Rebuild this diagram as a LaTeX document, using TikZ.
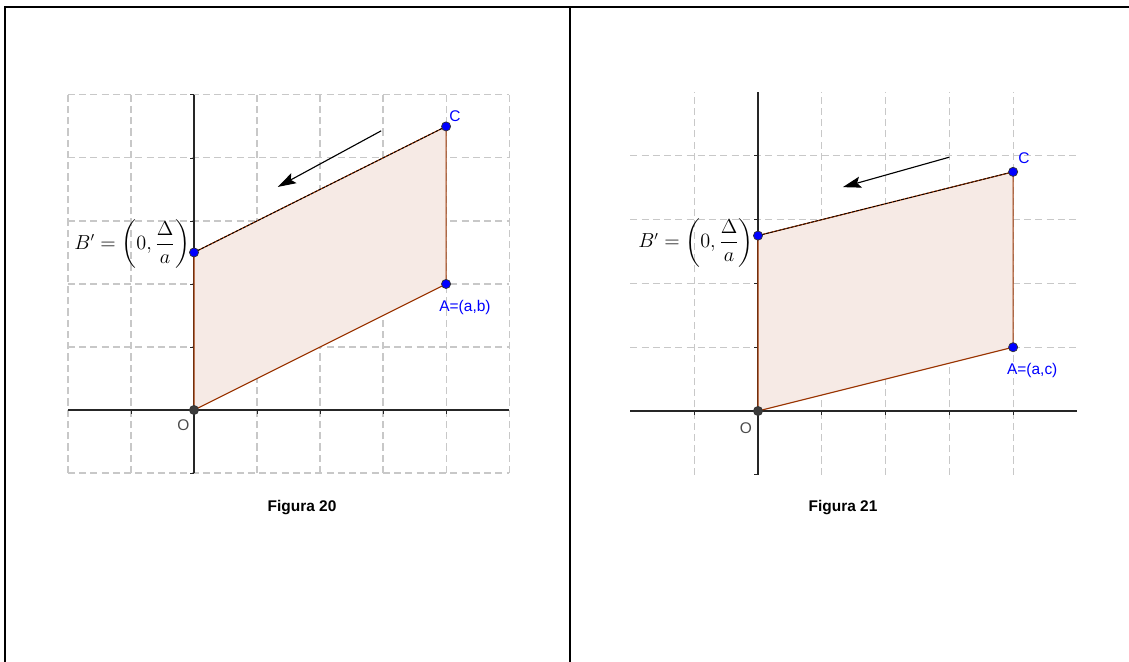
\documentclass[tikz,border=0pt]{standalone}
\usepackage{amsmath}
\usepackage{fontspec}
\setsansfont{Liberation Sans}
\usetikzlibrary{arrows.meta,positioning}
\definecolor{ggbrown}{RGB}{153,51,0}
\definecolor{ggfill}{RGB}{246,234,229}
\definecolor{gggrid}{RGB}{200,200,200}
\definecolor{ggblue}{RGB}{0,0,255}
\definecolor{ggdark}{RGB}{60,60,60}
\begin{document}
\begin{tikzpicture}[
    x=0.025cm, y=-0.025cm,
    frame/.style={line width=1.6pt},
    gridline/.style={gggrid, line width=0.8pt, dash pattern=on 5pt off 3pt},
    axis/.style={black!85, line width=0.9pt},
    tick/.style={black!85, line width=0.6pt},
    poly/.style={ggbrown, line width=0.8pt},
    pt/.style={circle, draw=black!80, fill=ggblue, inner sep=0pt, minimum size=6.5pt, line width=0.5pt},
    opt/.style={pt, fill=ggdark},
    lbl/.style={ggblue, inner sep=0pt, font=\sffamily\fontsize{11}{13}\selectfont},
    olbl/.style={lbl, black!70},
    mlbl/.style={anchor=east, inner sep=0pt, font=\fontsize{13.3}{16}\selectfont},
    vec/.style={-{Stealth[length=13pt, width=8pt, inset=2.5pt]}, line width=0.8pt},
    caption/.style={font=\sffamily\bfseries\fontsize{11}{13}\selectfont}
]
\useasboundingbox (0,0) rectangle (1129,662);
\draw[frame] (5,662) -- (5,7) -- (1129,7);
\draw[frame] (570,7) -- (570,662);

\begin{scope}[shift={(194,410)}, x=1.575cm, y=1.575cm]
\foreach \i in {-2,...,5} \draw[gridline] (\i,-1) -- (\i,5);
\foreach \j in {-1,...,5} \draw[gridline] (-2,\j) -- (5,\j);
\draw[axis] (-2,0) -- (5,0);
\draw[axis] (0,-1) -- (0,5);
\foreach \i in {-1,1,2,3,4} \draw[tick] (\i,0) -- (\i,-0.06);
\foreach \j in {-1,1,2,3,4,5} \draw[tick] (0,\j) -- (-0.06,\j);
\coordinate (oL) at (0,0);
\coordinate (aL) at (4,2);
\coordinate (cL) at (4,4.5);
\coordinate (bL) at (0,2.5);
\fill[ggfill] (oL) -- (aL) -- (cL) -- (bL) -- cycle;
\draw[poly] (oL) -- (aL) -- (cL) -- (bL) -- cycle;
\draw[black, line width=0.6pt, dash pattern=on 2pt off 1pt] (bL) -- (cL);
\node[opt] (oLp) at (oL) {};
\node[pt] (aLp) at (aL) {};
\node[pt] (cLp) at (cL) {};
\node[pt] (bLp) at (bL) {};
\node[lbl] (cLl) at (4.14,4.67) {C};
\node[lbl] (aLl) at (4.3,1.62) {A=(a,b)};
\node[olbl] (oLl) at (-0.17,-0.24) {O};
\node[mlbl] (bLl) at (-0.06,2.63) {$B'=\left(0,\dfrac{\Delta}{a}\right)$};
\coordinate (sL) at (2.97,4.43);
\coordinate (eL) at (1.33,3.54);
\draw[vec] (sL) -- (eL);
\end{scope}

\begin{scope}[shift={(758,411)}, x=1.594cm, y=1.594cm]
\foreach \i in {-1,1,2,3,4} \draw[gridline] (\i,-1) -- (\i,5);
\foreach \j in {1,...,4} \draw[gridline] (-2,\j) -- (5,\j);
\draw[axis] (-2,0) -- (5,0);
\draw[axis] (0,-1) -- (0,5);
\foreach \i in {-1,1,2,3,4} \draw[tick] (\i,0) -- (\i,-0.06);
\foreach \j in {-1,1,2,3,4} \draw[tick] (0,\j) -- (-0.06,\j);
\coordinate (oR) at (0,0);
\coordinate (aR) at (4,1);
\coordinate (cR) at (4,3.75);
\coordinate (bR) at (0,2.75);
\fill[ggfill] (oR) -- (aR) -- (cR) -- (bR) -- cycle;
\draw[poly] (oR) -- (aR) -- (cR) -- (bR) -- cycle;
\draw[black, line width=0.6pt, dash pattern=on 2pt off 1pt] (bR) -- (cR);
\node[opt] (oRp) at (oR) {};
\node[pt] (aRp) at (aR) {};
\node[pt] (cRp) at (cR) {};
\node[pt] (bRp) at (bR) {};
\node[lbl] (cRl) at (4.17,3.97) {C};
\node[lbl] (aRl) at (4.3,0.64) {A=(a,c)};
\node[olbl] (oRl) at (-0.19,-0.27) {O};
\node[mlbl] (bRl) at (-0.06,2.64) {$B'=\left(0,\dfrac{\Delta}{a}\right)$};
\coordinate (sR) at (3.0,3.98);
\coordinate (eR) at (1.33,3.51);
\draw[vec] (sR) -- (eR);
\end{scope}

\node[caption] (capL) at (302,508) {Figura 20};
\node[caption] (capR) at (843,508) {Figura 21};
\end{tikzpicture}
\end{document}
